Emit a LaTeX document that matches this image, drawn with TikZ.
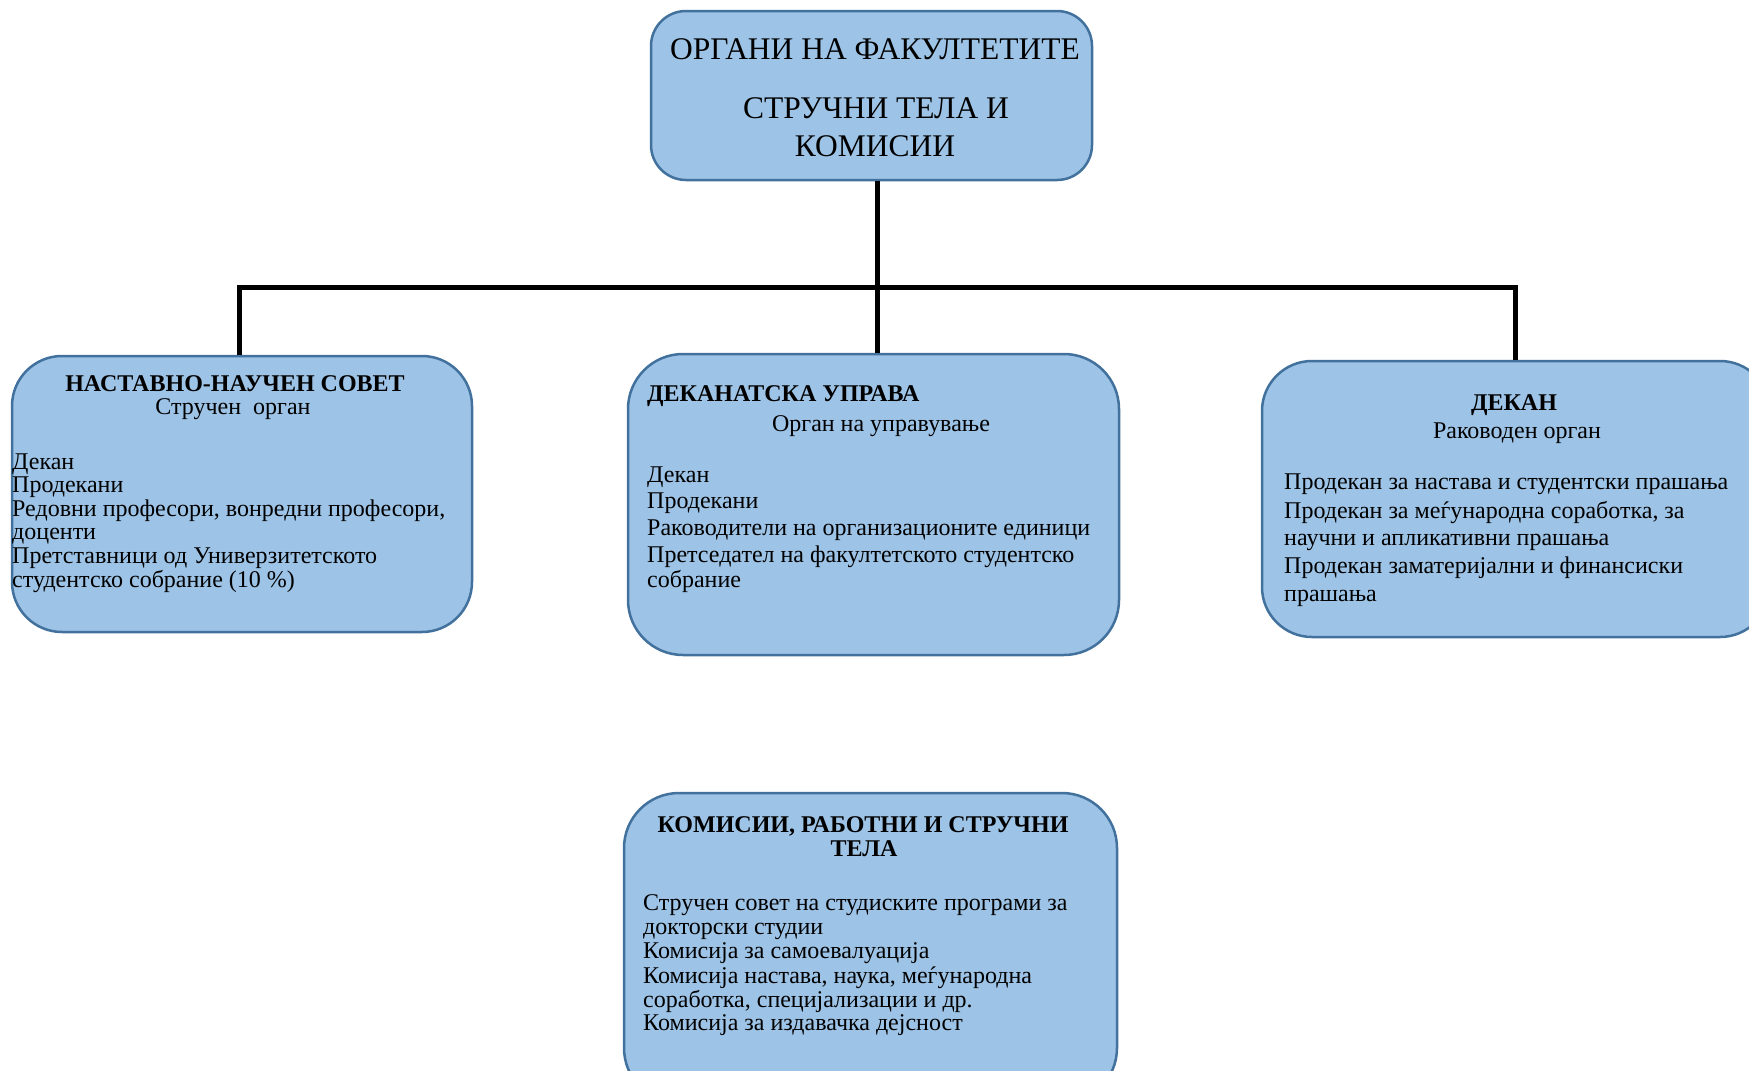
\documentclass[tikz,border=0pt]{standalone}
\usepackage{fontspec}
\setmainfont{Liberation Serif}
\definecolor{boxfill}{RGB}{157,195,230}
\definecolor{boxline}{RGB}{65,113,156}
\begin{document}
\begin{tikzpicture}[x=1pt,y=-1pt,
  orgbox/.style={draw=boxline,fill=boxfill,line width=2.5pt,rectangle,inner sep=0pt},
  txt/.style={inner sep=0pt,anchor=base west,font=\fontsize{24}{28}\selectfont},
  ctxt/.style={inner sep=0pt,anchor=base,font=\fontsize{24}{28}\selectfont},
  bold/.style={font=\fontsize{24}{28}\selectfont\bfseries},
  bigtxt/.style={inner sep=0pt,anchor=base,font=\fontsize{31.5}{36}\selectfont},
  conn/.style={line width=4.5pt,black},
  busline/.style={line width=5pt,black,line cap=rect}]
\useasboundingbox (0,0) rectangle (1749,1071);
% boxes
\node[orgbox,rounded corners=35pt,minimum width=441pt,minimum height=169pt] (top) at (871.5,95.5) {};
\node[orgbox,rounded corners=50pt,minimum width=460pt,minimum height=276pt] (left) at (242,494) {};
\node[orgbox,rounded corners=55pt,minimum width=491pt,minimum height=301pt] (mid) at (873.5,504.5) {};
\node[orgbox,rounded corners=50pt,minimum width=508pt,minimum height=276pt] (right) at (1516,499) {};
\node[orgbox,rounded corners=55pt,minimum width=493pt,minimum height=310pt] (bot) at (870.5,948) {};
% connectors
\coordinate (hub) at (877.5,287);
\coordinate (busL) at (239.5,287);
\coordinate (busR) at (1515.5,287);
\draw[conn] (top.south -| hub) -- (hub);
\draw[busline] (busL) -- (busR);
\draw[conn] (busL) -- (left.north -| busL);
\draw[conn] (hub) -- (mid.north -| hub);
\draw[conn] (busR) -- (right.north -| busR);
% top texts
\node[bigtxt] (tA) at (875,59) {ОРГАНИ НА ФАКУЛТЕТИТЕ};
\node[bigtxt] (tB) at (876,118) {СТРУЧНИ ТЕЛА И};
\node[bigtxt] (tC) at (875,156) {КОМИСИИ};
% left box
\node[ctxt,bold] (lh) at (235,391) {НАСТАВНО-НАУЧЕН СОВЕТ};
\node[ctxt] (ls) at (233,414) {Стручен\ \ орган};
\node[txt] (l1) at (12,469) {Декан};
\node[txt] (l2) at (12,492) {Продекани};
\node[txt] (l3) at (12,516) {Редовни професори, вонредни професори,};
\node[txt] (l4) at (12,539) {доценти};
\node[txt] (l5) at (12,563) {Претставници од Универзитетското};
\node[txt] (l6) at (12,587) {студентско собрание (10 \%)};
% middle box
\node[txt,bold] (mh) at (647,401) {ДЕКАНАТСКА УПРАВА};
\node[ctxt] (ms) at (881,431) {Орган на управување};
\node[txt] (m1) at (647,482) {Декан};
\node[txt] (m2) at (647,508) {Продекани};
\node[txt] (m3) at (647,535) {Раководители на организационите единици};
\node[txt] (m4) at (647,562) {Претседател на факултетското студентско};
\node[txt] (m5) at (647,587) {собрание};
% right box
\node[ctxt,bold] (rh) at (1514,410) {ДЕКАН};
\node[ctxt] (rs) at (1517,438) {Раководен орган};
\node[txt] (r1) at (1284,489) {Продекан за настава и студентски прашања};
\node[txt] (r2) at (1284,518) {Продекан за меѓународна соработка, за};
\node[txt] (r3) at (1284,545) {научни и апликативни прашања};
\node[txt] (r4) at (1284,573) {Продекан заматеријални и финансиски};
\node[txt] (r5) at (1284,601) {прашања};
% bottom box
\node[ctxt,bold] (bh1) at (863,832) {КОМИСИИ, РАБОТНИ И СТРУЧНИ};
\node[ctxt,bold] (bh2) at (864,856) {ТЕЛА};
\node[txt] (b1) at (643,910) {Стручен совет на студиските програми за};
\node[txt] (b2) at (643,934) {докторски студии};
\node[txt] (b3) at (643,958) {Комисија за самоевалуација};
\node[txt] (b4) at (643,983) {Комисија настава, наука, меѓународна};
\node[txt] (b5) at (643,1007) {соработка, специјализации и др.};
\node[txt] (b6) at (643,1030) {Комисија за издавачка дејсност};
\end{tikzpicture}
\end{document}
